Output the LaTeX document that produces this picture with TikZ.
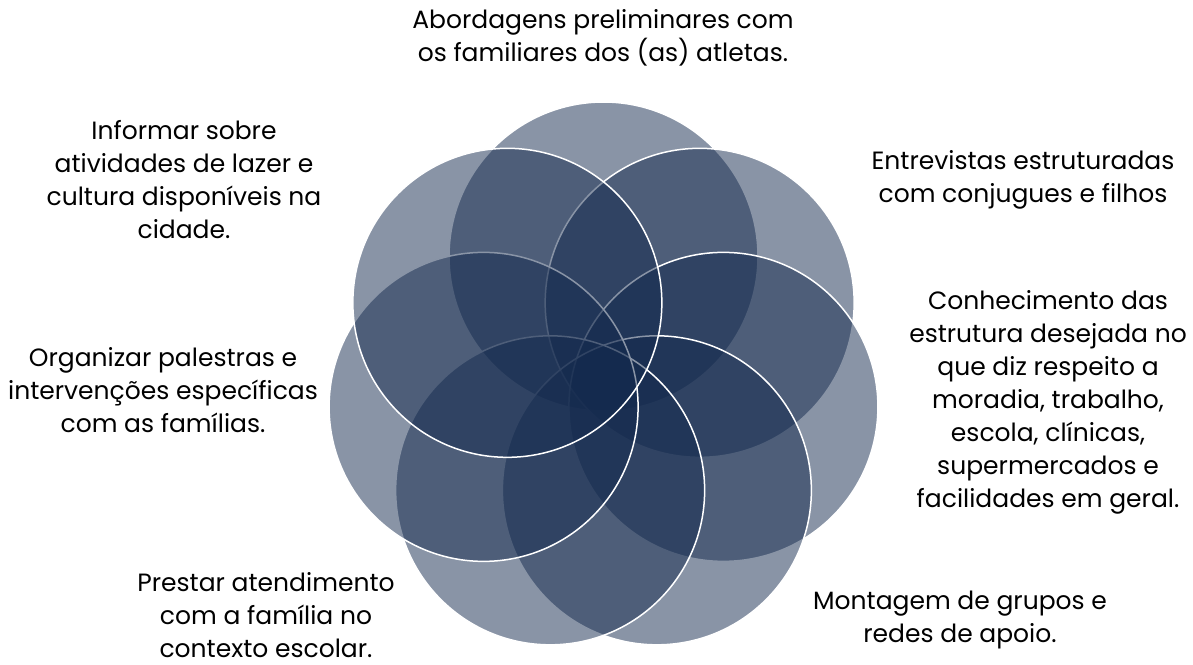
\documentclass[tikz,border=0pt]{standalone}
\usepackage{fontspec}
\setmainfont{Poppins}
\definecolor{petal}{RGB}{20,42,78}
\begin{document}
\begin{tikzpicture}[x=1pt,y=-1pt,
  petalstyle/.style={circle, minimum size=309pt, inner sep=0pt, outer sep=0pt,
    fill=petal, fill opacity=0.5, draw=white, draw opacity=1, line width=1.5pt},
  lbl/.style={align=center, font=\fontsize{25}{33}\selectfont, text=black, inner sep=0pt}]
\useasboundingbox[fill=white] (0,0) rectangle (1193,664);
\foreach \k in {0,...,6}{
  \node[petalstyle] (c\k) at ({603.5+123*cos(90-\k*360/7)},{379.5-123*sin(90-\k*360/7)}) {};
}
\node[lbl] (l0) at (603,38) {Abordagens preliminares com\\os familiares dos (as) atletas.};
\node[lbl] (l1) at (1023,180) {Entrevistas estruturadas\\com conjugues e filhos};
\node[lbl] (l2) at (1048,402) {Conhecimento das\\estrutura desejada no\\que diz respeito a\\moradia, trabalho,\\escola, clínicas,\\supermercados e\\facilidades em geral.};
\node[lbl] (l3) at (960,620) {Montagem de grupos e\\redes de apoio.};
\node[lbl] (l4) at (266,615) {Prestar atendimento\\com a família no\\contexto escolar.};
\node[lbl] (l5) at (163,390) {Organizar palestras e\\intervenções específicas\\com as famílias.};
\node[lbl] (l6) at (184,180) {Informar sobre\\atividades de lazer e\\cultura disponíveis na\\cidade.};
\end{tikzpicture}
\end{document}
